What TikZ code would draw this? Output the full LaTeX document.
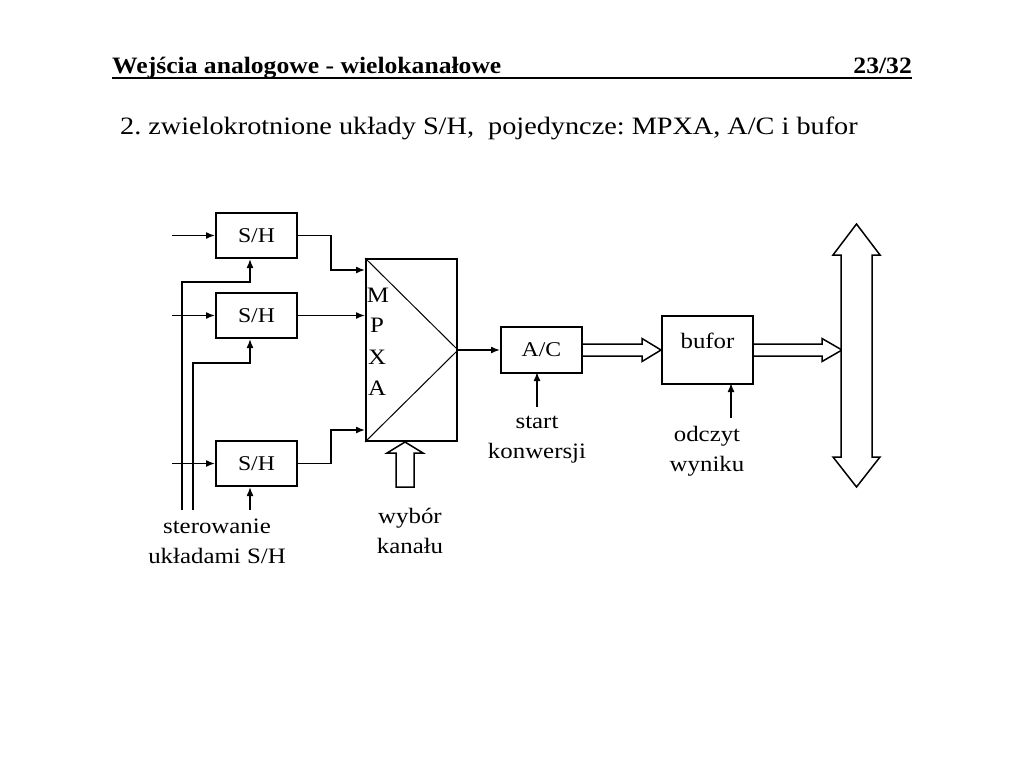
\documentclass[tikz,border=0pt]{standalone}
\usepackage{fontspec}
\setmainfont[FakeStretch=1.13]{Liberation Serif}
\newfontfamily\hdrfont[FakeStretch=1.09]{Liberation Serif}
\usetikzlibrary{arrows.meta}
\begin{document}
\frenchspacing
\begin{tikzpicture}[x=1pt,y=-1pt,
  blk/.style={draw, line width=2pt, minimum width=81pt, minimum height=45pt, inner sep=0pt, font=\fontsize{21}{24}\selectfont},
  conn/.style={line width=1.5pt, -{Latex[length=9pt,width=7pt]}},
  wire/.style={line width=1.5pt},
  hollow/.style={draw, line width=1.5pt, fill=white, line join=miter},
  lbl/.style={font=\fontsize{22}{30}\selectfont, align=center, inner sep=0pt},
  txt/.style={font=\fontsize{22}{24}\selectfont, inner sep=0pt}]
\useasboundingbox[fill=white] (0,0) rectangle (1024,768);

% header
\node[anchor=base west, inner sep=0pt, font=\hdrfont\bfseries\fontsize{23.5}{26}\selectfont] (title) at (112,73) {Wejścia analogowe - wielokanałowe};
\node[anchor=base east, inner sep=0pt, font=\hdrfont\bfseries\fontsize{23.5}{26}\selectfont] (page) at (912,73) {23/32};
\draw[line width=2pt] (112,77.5) -- (912,77.5);
\node[anchor=base west, inner sep=0pt, font=\fontsize{25}{28}\selectfont] (sub) at (120,134.5) {2. zwielokrotnione układy S/H,\ \ pojedyncze: MPXA, A/C i bufor};

% blocks
\node[blk] (sh1) at (256.5,235.5) {S/H};
\node[blk] (sh2) at (256.5,315.5) {S/H};
\node[blk] (sh3) at (256.5,463.5) {S/H};
\node[draw, line width=2pt, minimum width=91pt, minimum height=182pt, inner sep=0pt] (mpxa) at (411.5,350) {};
\draw[line width=1pt] (mpxa.north west) -- (mpxa.east) -- (mpxa.south west);
\node[txt] (lm) at (378,295) {M};
\node[txt] (lp) at (377,325) {P};
\node[txt] (lx) at (377,357) {X};
\node[txt] (la) at (377,388) {A};
\node[blk, minimum height=46pt] (ac) at (541.5,350) {A/C};
\node[draw, line width=2pt, minimum width=91pt, minimum height=68pt, inner sep=0pt] (buf) at (707.5,350) {};
\node[txt] (buft) at (707.5,341) {bufor};

% inputs
\coordinate (in1) at (172,235.5);
\coordinate (in2) at (172,315.5);
\coordinate (in3) at (172,463.5);
\draw[conn] (in1) -- (sh1.west);
\draw[conn] (in2) -- (sh2.west);
\draw[conn] (in3) -- (sh3.west);

% S/H -> MPXA
\draw[conn] (sh1.east) -| (331,270) -- ([yshift=80pt]mpxa.west);
\draw[conn] (sh2.east) -- (sh2.east -| mpxa.west);
\draw[conn] (sh3.east) -| (331,430) -- ([yshift=-80pt]mpxa.west);

% control lines
\coordinate (c1) at (182,510);
\coordinate (c2) at (193,510);
\coordinate (c3) at (250,510);
\draw[conn] (c1) |- ([xshift=-6.5pt,yshift=-23pt]sh1.south) -- ([xshift=-6.5pt]sh1.south);
\draw[conn] (c2) |- ([xshift=-6.5pt,yshift=-24pt]sh2.south) -- ([xshift=-6.5pt]sh2.south);
\draw[conn] (c3) -- ([xshift=-6.5pt]sh3.south);
\node[lbl] (ster) at (217,541.5) {sterowanie\\układami S/H};

% channel select hollow arrow
\draw[hollow] (405,442) -- (423,453) -- (414,453) -- (414,487) -- (396,487) -- (396,453) -- (387,453) -- cycle;
\node[lbl] (wyb) at (410,531) {wybór\\kanału};

% MPXA -> A/C
\draw[conn] (mpxa.east) -- (ac.west);

% start
\node[lbl] (start) at (537,440) {start\\konwersji};
\draw[conn] (537,407) -- (537,372);

% A/C -> bufor hollow
\draw[hollow] (ac.east |- 0,344) -- (642,344) -- (642,338.5) -- (buf.west) -- (642,361.5) -- (642,356) -- (ac.east |- 0,356);

% odczyt
\node[lbl] (odc) at (707,451) {odczyt\\wyniku};
\draw[conn] (731,418) -- (731,383);

% bufor -> bus hollow
\draw[hollow] (buf.east |- 0,344) -- (822,344) -- (822,338.5) -- (842,350) -- (822,361.5) -- (822,356) -- (buf.east |- 0,356);

% bus
\draw[hollow] (856.5,224) -- (880,255) -- (872,255) -- (872,457) -- (880,457) -- (856.5,487) -- (833,457) -- (841,457) -- (841,255) -- (833,255) -- cycle;
\end{tikzpicture}
\end{document}
